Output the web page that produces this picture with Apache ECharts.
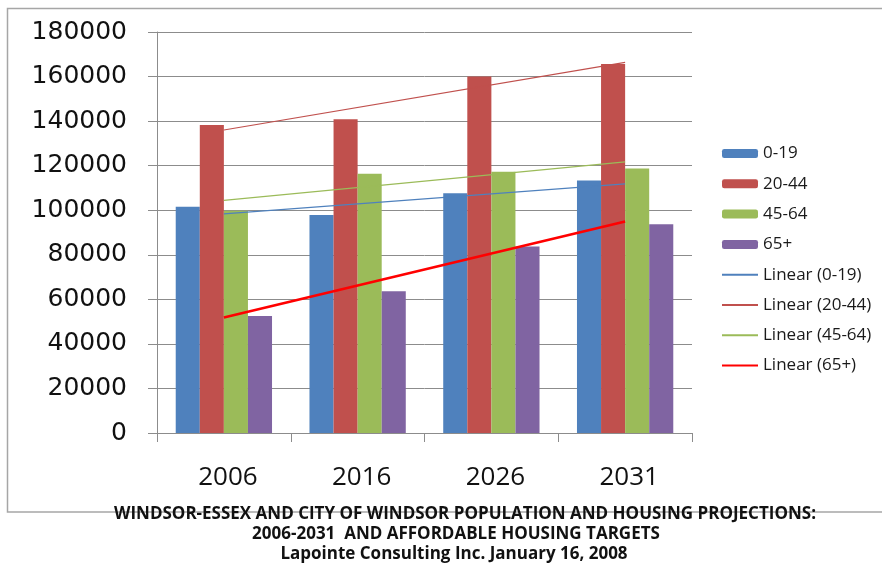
<!DOCTYPE html>
<html>
<head>
<meta charset="utf-8">
<script src="https://cdn.jsdelivr.net/npm/echarts@6/dist/echarts.min.js"></script>
<style>
html,body{margin:0;padding:0;background:#fff;}
#chart{width:882px;height:563px;}
</style>
</head>
<body>
<div id="chart"></div>
<script>
var categories = ['2006', '2016', '2026', '2031'];
var seriesNames = ['0-19', '20-44', '45-64', '65+'];
var age0_19 = [101600, 97900, 107600, 113300];
var age20_44 = [138300, 140800, 160000, 165600];
var age45_64 = [99800, 116400, 117300, 118700];
var age65plus = [52500, 63600, 83700, 93700];
// linear trend lines: value at first and last category
var trendStart = [98400, 136000, 104400, 51800];
var trendEnd = [111800, 166400, 121700, 94900];
var yTicks = [0, 20000, 40000, 60000, 80000, 100000, 120000, 140000, 160000, 180000];
var titleLines = [
  'WINDSOR-ESSEX AND CITY OF WINDSOR POPULATION AND HOUSING PROJECTIONS:',
  '2006-2031  AND AFFORDABLE HOUSING TARGETS',
  'Lapointe Consulting Inc. January 16, 2008'
];

var barColors = ['#4F81BD', '#C0504D', '#9BBB59', '#8064A2'];
var trendColors = ['#4F81BD', '#C0504D', '#9BBB59', '#FF0000'];
var trendWidths = [1.2, 1.2, 1.2, 2.6];
var barData = [age0_19, age20_44, age45_64, age65plus];

var series = [];
var legendData = [];
for (var i = 0; i < 4; i++) {
  series.push({
    name: seriesNames[i], type: 'bar', data: barData[i],
    barGap: '0%', barCategoryGap: '28%',
    itemStyle: { color: barColors[i] }
  });
  legendData.push({ name: seriesNames[i] });
}
for (var j = 0; j < 4; j++) {
  var d = [trendStart[j]];
  for (var k = 1; k < categories.length - 1; k++) d.push(null);
  d.push(trendEnd[j]);
  var nm = 'Linear (' + seriesNames[j] + ')';
  series.push({
    name: nm, type: 'line', data: d,
    connectNulls: true, symbol: 'none', showSymbol: false,
    lineStyle: { color: trendColors[j], width: trendWidths[j] },
    itemStyle: { color: trendColors[j] },
    z: 5
  });
  legendData.push({ name: nm, itemStyle: { opacity: 0 } });
}

var titleFont = { fontFamily: 'Open Sans', fontWeight: 'bold', fontSize: 17, fill: '#111',
  textAlign: 'center', textVerticalAlign: 'middle' };
function titleText(t, x, y) {
  return { type: 'text', x: x, y: y, z: 10, silent: true,
    style: Object.assign({ text: t }, titleFont) };
}

var chart = echarts.init(document.getElementById('chart'));
chart.setOption({
  animation: false,
  backgroundColor: '#ffffff',
  grid: { left: 157, right: 190, top: 32, bottom: 130, containLabel: false },
  legend: {
    orient: 'vertical', left: 721, top: 143.5, padding: 0,
    itemWidth: 36, itemHeight: 9, itemGap: 10.3,
    textStyle: { fontFamily: 'Open Sans', fontSize: 17, color: '#1a1a1a', lineHeight: 20 },
    data: legendData
  },
  xAxis: {
    type: 'category', data: categories,
    axisLine: { lineStyle: { color: '#8c8c8c', width: 1 } },
    axisTick: { show: true, length: 9, lineStyle: { color: '#8c8c8c' } },
    axisLabel: { fontFamily: 'Open Sans', fontSize: 26, color: '#111', margin: 32,
      padding: [0, 0, 0, 8] }
  },
  yAxis: {
    type: 'value', min: yTicks[0], max: yTicks[yTicks.length - 1], interval: yTicks[1] - yTicks[0],
    axisLine: { show: true, lineStyle: { color: '#8c8c8c', width: 1 } },
    axisTick: { show: true, length: 9, lineStyle: { color: '#8c8c8c' } },
    splitLine: { show: true, lineStyle: { color: '#8c8c8c', width: 1 } },
    axisLabel: { fontFamily: 'DejaVu Sans', fontSize: 25, color: '#111', margin: 30,
      formatter: function (v) { return String(v); } }
  },
  graphic: [
    { type: 'polyline', silent: true, z: -1,
      shape: { points: [[890, 8.5], [7.5, 8.5], [7.5, 512], [890, 512]] },
      style: { stroke: '#a6a6a6', lineWidth: 1.5, fill: null } },
    titleText(titleLines[0], 465, 514),
    titleText(titleLines[1], 456, 534),
    titleText(titleLines[2], 454, 554)
  ],
  series: series
});
</script>
</body>
</html>
